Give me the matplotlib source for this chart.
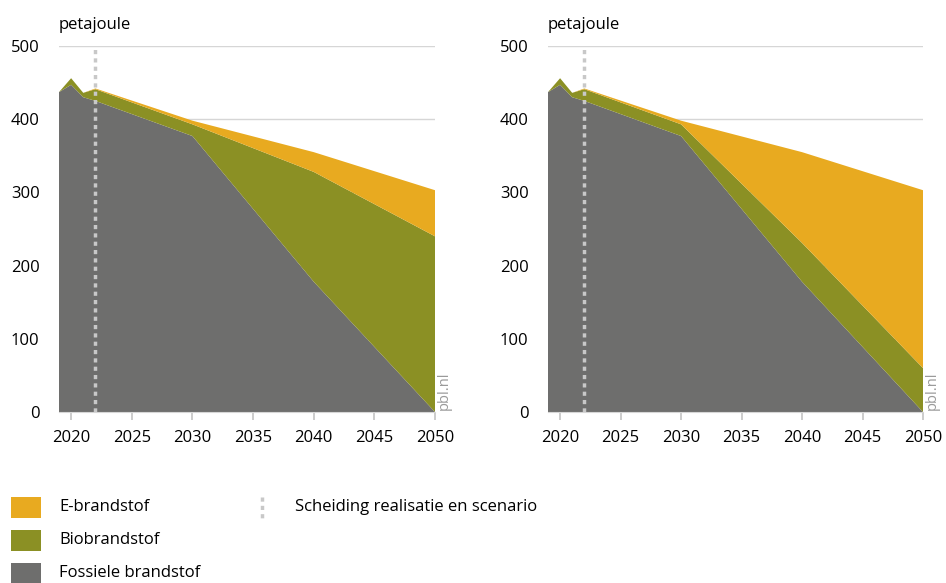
import matplotlib
matplotlib.use("Agg")
import matplotlib.pyplot as plt
from matplotlib.patches import Rectangle
from matplotlib.lines import Line2D

years = [2019, 2020, 2021, 2022, 2030, 2040, 2050]
fossil = [437, 447, 430, 425, 377, 178, 0]
bio_left = [0, 9, 6, 16, 16, 150, 240]
e_left = [0, 0, 0, 1, 5, 27, 63]
bio_right = [0, 9, 6, 16, 16, 53, 60]
e_right = [0, 0, 0, 1, 5, 124, 243]

xticks = [2020, 2025, 2030, 2035, 2040, 2045, 2050]
yticks = [0, 100, 200, 300, 400, 500]
split_year = 2022
legend_labels = ["E-brandstof", "Biobrandstof", "Fossiele brandstof"]
sep_label = "Scheiding realisatie en scenario"

c_e = "#e8aa20"
c_bio = "#8b9024"
c_fos = "#6e6e6d"
c_grid = "#d6d6d6"
c_tick = "#c4c4c4"
c_sep = "#c8c8c8"

plt.rcParams['font.family'] = ['Open Sans', 'DejaVu Sans']
FS = 12

fig = plt.figure(figsize=(9.46, 5.83), dpi=100)
W, H = 946, 583

def make_ax(x0, x1, bio, e):
    ax = fig.add_axes([x0 / W, 1 - 412 / H, (x1 - x0) / W, (412 - 46) / H])
    ax.stackplot(years, fossil, bio, e, colors=[c_fos, c_bio, c_e], linewidth=0)
    ax.set_xlim(2019, 2050)
    ax.set_ylim(0, 500)
    ax.set_yticks(yticks)
    ax.set_xticks(xticks)
    for y in yticks[1:]:
        ax.axhline(y, color=c_grid, lw=1, zorder=0)
    ax.axvline(split_year, color=c_sep, lw=2.5, ls=(0, (1.2, 1.2)), zorder=3)
    for s in ["top", "right", "left"]:
        ax.spines[s].set_visible(False)
    ax.spines["bottom"].set_color(c_grid)
    ax.tick_params(axis="y", length=0, labelsize=FS, pad=14)
    ax.tick_params(axis="x", length=6, width=1.2, color=c_tick, labelsize=FS, pad=7)
    ax.set_axisbelow(True)
    ax.text(0, 1.035, "petajoule", transform=ax.transAxes, fontsize=FS, va="bottom", ha="left")
    ax.text(1.005, 0.005, "pbl.nl", transform=ax.transAxes, fontsize=10.5, color="#9a9a9a",
            rotation=90, va="bottom", ha="left")
    return ax

make_ax(59, 435, bio_left, e_left)
make_ax(548, 923, bio_right, e_right)

# legend
colors = [c_e, c_bio, c_fos]
for i, (lab, col) in enumerate(zip(legend_labels, colors)):
    yc = 507 + 33 * i
    fig.add_artist(Rectangle((11 / W, 1 - (yc + 10.5) / H), 30 / W, 21 / H,
                             transform=fig.transFigure, facecolor=col, edgecolor="none"))
    fig.text(59 / W, 1 - yc / H, lab, fontsize=FS, va="center", ha="left")

fig.add_artist(Line2D([262 / W, 262 / W], [1 - 497 / H, 1 - 519 / H], transform=fig.transFigure,
                      color=c_sep, lw=2.5, ls=(0, (1.2, 1.2))))
fig.text(295 / W, 1 - 507 / H, sep_label, fontsize=FS, va="center", ha="left")

fig.savefig("out.png", dpi=100)
